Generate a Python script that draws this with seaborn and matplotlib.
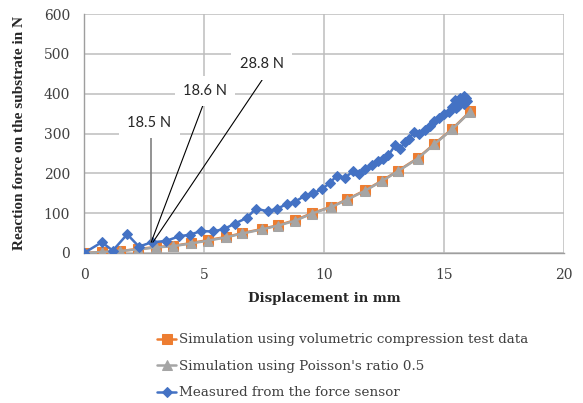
import matplotlib
matplotlib.use("Agg")
import matplotlib.pyplot as plt
import seaborn as sns
import pandas as pd

# ---- data ----
sim_x = [0.0, 0.75, 1.5, 2.25, 3.0, 3.7, 4.46, 5.17, 5.9, 6.6, 7.4, 8.1, 8.8,
         9.5, 10.3, 10.97, 11.7, 12.4, 13.1, 13.9, 14.6, 15.35, 16.1]
sim_vol_y = [0, 2.5, 5, 10, 15, 17.5, 25, 32.5, 40, 50, 60, 70, 82.5,
             100, 116, 135, 157, 181, 207, 238, 274, 312, 356]
sim_poisson_y = [0, 2.5, 5, 9, 14, 17, 24, 31, 39, 49, 59, 69, 81,
                 99, 115, 134, 156, 180, 206, 237, 273, 311, 355]
meas_x = [0.0, 0.74, 1.2, 1.8, 2.29, 2.82, 3.4, 3.97, 4.42, 4.87, 5.36, 5.83,
          6.29, 6.78, 7.15, 7.65, 8.05, 8.45, 8.8, 9.21, 9.55, 9.9, 10.25,
          10.53, 10.88, 11.22, 11.47, 11.71, 11.99, 12.26, 12.47, 12.68, 12.96,
          13.17, 13.38, 13.55, 13.74, 13.95, 14.22, 14.43, 14.57, 14.78, 14.99,
          15.2, 15.33, 15.47, 15.6, 15.68, 15.82, 15.9, 15.96, 15.85, 15.6,
          15.5, 15.7, 15.85]
meas_y = [0, 27, 6, 47, 16, 27, 30, 42, 46, 55, 54, 60,
          74, 88, 111, 105, 111, 123, 129, 144, 150, 160, 176,
          194, 189, 206, 199, 212, 220, 231, 237, 245, 270,
          262, 278, 287, 303, 299, 309, 318, 332, 340, 349,
          355, 366, 383, 378, 388, 395, 388, 382, 374, 370,
          365, 380, 390]
series_names = ["Simulation using volumetric compression test data",
                "Simulation using Poisson's ratio 0.5",
                "Measured from the force sensor"]
x_ticks = [0, 5, 10, 15, 20]
y_ticks = [0, 100, 200, 300, 400, 500, 600]
annot_labels = ["18.5 N", "18.6 N", "28.8 N"]
x_label = "Displacement in mm"
y_label = "Reaction force on the substrate in N"

sns.set_style("white")
serif = ["DejaVu Serif", "Liberation Serif"]
plt.rcParams["font.family"] = serif

fig = plt.figure(figsize=(5.83, 4.03), dpi=100)
ax = fig.add_axes([84 / 583, 1 - 253 / 403, 480 / 583, 239 / 403])

df_vol = pd.DataFrame({"x": sim_x, "y": sim_vol_y})
df_poi = pd.DataFrame({"x": sim_x, "y": sim_poisson_y})
df_meas = pd.DataFrame({"x": meas_x, "y": meas_y})

sns.lineplot(data=df_vol, x="x", y="y", ax=ax, sort=False, estimator=None,
             color="#ED7D31", marker="s", markersize=6.5, markeredgecolor="#ED7D31",
             linewidth=1.8, label=series_names[0], zorder=3)
sns.lineplot(data=df_poi, x="x", y="y", ax=ax, sort=False, estimator=None,
             color="#A5A5A5", marker="^", markersize=6.5, markeredgecolor="#A5A5A5",
             linewidth=1.8, label=series_names[1], zorder=4)
sns.lineplot(data=df_meas, x="x", y="y", ax=ax, sort=False, estimator=None,
             color="#4472C4", marker="D", markersize=5.5, markeredgecolor="#4472C4",
             linewidth=1.8, label=series_names[2], zorder=5)

ax.set_xlim(0, 20)
ax.set_ylim(0, 600)
ax.set_xticks(x_ticks)
ax.set_yticks(y_ticks)
ax.grid(True, color="#BDBDBD", linewidth=1.1, zorder=0)
ax.set_axisbelow(True)
for s in ["top", "right"]:
    ax.spines[s].set_visible(False)
for s in ["left", "bottom"]:
    ax.spines[s].set_color("#9E9E9E")
    ax.spines[s].set_linewidth(1.0)
ax.tick_params(axis="both", which="both", direction="out", length=5, width=1,
               color="#9E9E9E", labelsize=10, labelcolor="#404040", pad=5)
ax.tick_params(axis="x", pad=6)

ax.set_xlabel(x_label, fontsize=9.5, fontweight="bold", color="#262626", labelpad=7)
ax.set_ylabel(y_label, fontsize=11, fontweight="bold", color="#262626", labelpad=13,
              family=["Liberation Serif", "DejaVu Serif"])

# annotations (callouts)
conv = (2.8, 27)
ax.plot([2.78, 2.78], [288, 27], color="#808080", linewidth=1.2, zorder=6)
ax.plot([4.95, conv[0]], [370, conv[1]], color="black", linewidth=0.8, zorder=6)
ax.plot([7.45, 2.87], [437, conv[1]], color="black", linewidth=0.8, zorder=6)
bbox = dict(facecolor="white", edgecolor="none", pad=6)
sans = ["Lato", "DejaVu Sans"]
ax.text(2.72, 326, annot_labels[0], ha="center", va="center", fontsize=10.5,
        family=sans, color="#262626", bbox=bbox, zorder=7)
ax.text(5.04, 407, annot_labels[1], ha="center", va="center", fontsize=10.5,
        family=sans, color="#262626", bbox=bbox, zorder=7)
ax.text(7.4, 474, annot_labels[2], ha="center", va="center", fontsize=10.5,
        family=sans, color="#262626", bbox=bbox, zorder=7)

leg = ax.legend(loc="upper left", bbox_to_anchor=(152 / 583, 1 - 328 / 403),
                bbox_transform=fig.transFigure, frameon=False, fontsize=9.7,
                handlelength=1.4, handletextpad=0.2, labelspacing=1.0,
                borderaxespad=0)
for t in leg.get_texts():
    t.set_color("#404040")

fig.savefig("out.png", dpi=100)
